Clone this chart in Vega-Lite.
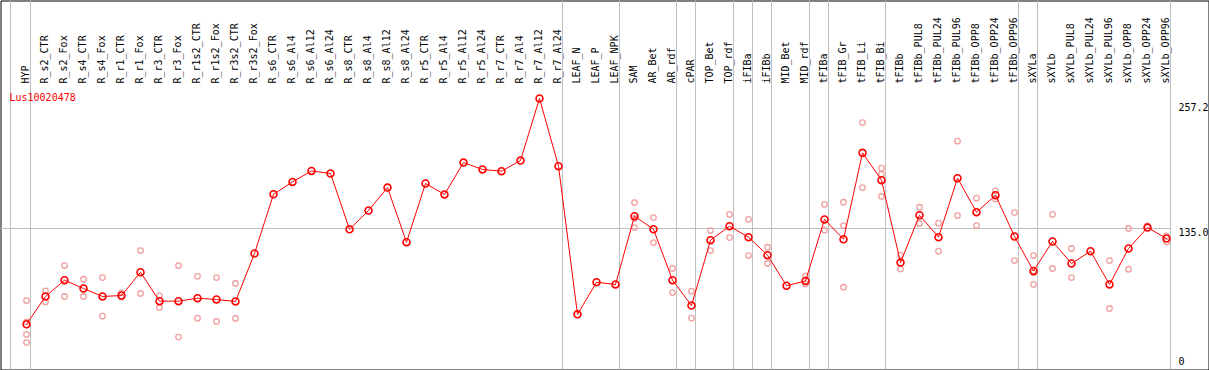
{
  "$schema": "https://vega.github.io/schema/vega-lite/v6.json",
  "width": 1208,
  "height": 369,
  "padding": 0.5,
  "autosize": {"type": "none"},
  "background": "#ffffff",
  "title": {"text": "Lus10020478", "anchor": "start", "frame": "group", "orient": "top", "offset": -103, "color": "#FF0000", "font": "DejaVu Sans Mono", "fontSize": 10, "fontWeight": "normal", "dx": 9, "baseline": "top"},
  "config": {
    "view": {"stroke": "#000000", "strokeWidth": 1},
    "axis": {"translate": 0}
  },
  "datasets": {
    "means": [
      {"cat": "HYP", "v": 45.0}, {"cat": "R_s2_CTR", "v": 71.1}, {"cat": "R_s2_Fox", "v": 86.4}, {"cat": "R_s4_CTR", "v": 78.6}, {"cat": "R_s4_Fox", "v": 71.1},
      {"cat": "R_r1_CTR", "v": 72.0}, {"cat": "R_r1_Fox", "v": 93.9}, {"cat": "R_r3_CTR", "v": 66.7}, {"cat": "R_r3_Fox", "v": 66.7}, {"cat": "R_r1s2_CTR", "v": 69.5},
      {"cat": "R_r1s2_Fox", "v": 68.3}, {"cat": "R_r3s2_CTR", "v": 66.4}, {"cat": "R_r3s2_Fox", "v": 111.5}, {"cat": "R_s6_CTR", "v": 167.2}, {"cat": "R_s6_Al4", "v": 178.8},
      {"cat": "R_s6_Al12", "v": 189.1}, {"cat": "R_s6_Al24", "v": 186.7}, {"cat": "R_s8_CTR", "v": 134.3}, {"cat": "R_s8_Al4", "v": 151.9}, {"cat": "R_s8_Al12", "v": 173.5},
      {"cat": "R_s8_Al24", "v": 122.1}, {"cat": "R_r5_CTR", "v": 177.3}, {"cat": "R_r5_Al4", "v": 167.0}, {"cat": "R_r5_Al12", "v": 197.0}, {"cat": "R_r5_Al24", "v": 190.5},
      {"cat": "R_r7_CTR", "v": 188.9}, {"cat": "R_r7_Al4", "v": 198.9}, {"cat": "R_r7_Al12", "v": 257.2}, {"cat": "R_r7_Al24", "v": 193.6}, {"cat": "LEAF_N", "v": 54.3},
      {"cat": "LEAF_P", "v": 84.5}, {"cat": "LEAF_NPK", "v": 82.4}, {"cat": "SAM", "v": 146.6}, {"cat": "AR_Bet", "v": 134.3}, {"cat": "AR_rdf", "v": 86.4},
      {"cat": "cPAR", "v": 62.6}, {"cat": "TOP_Bet", "v": 124.0}, {"cat": "TOP_rdf", "v": 137.2}, {"cat": "iFIBa", "v": 126.8}, {"cat": "iFIBb", "v": 109.9},
      {"cat": "MID_Bet", "v": 81.2}, {"cat": "MID_rdf", "v": 85.7}, {"cat": "tFIBa", "v": 143.5}, {"cat": "tFIB_Gr", "v": 124.9}, {"cat": "tFIB_Li", "v": 206.1},
      {"cat": "tFIB_Bi", "v": 180.4}, {"cat": "tFIBb", "v": 103.0}, {"cat": "tFIBb_PUL8", "v": 147.5}, {"cat": "tFIBb_PUL24", "v": 126.8}, {"cat": "tFIBb_PUL96", "v": 182.3},
      {"cat": "tFIBb_OPP8", "v": 150.3}, {"cat": "tFIBb_OPP24", "v": 166.3}, {"cat": "tFIBb_OPP96", "v": 127.5}, {"cat": "sXYLa", "v": 95.1}, {"cat": "sXYLb", "v": 122.8},
      {"cat": "sXYLb_PUL8", "v": 102.1}, {"cat": "sXYLb_PUL24", "v": 113.7}, {"cat": "sXYLb_PUL96", "v": 82.4}, {"cat": "sXYLb_OPP8", "v": 116.2}, {"cat": "sXYLb_OPP24", "v": 135.9},
      {"cat": "sXYLb_OPP96", "v": 125.6}
    ],
    "reps": [
      {"cat": "HYP", "v": 67.3}, {"cat": "HYP", "v": 47.2}, {"cat": "HYP", "v": 35.4}, {"cat": "HYP", "v": 27.8},
      {"cat": "R_s2_CTR", "v": 76.3}, {"cat": "R_s2_CTR", "v": 66.0},
      {"cat": "R_s2_Fox", "v": 100.2}, {"cat": "R_s2_Fox", "v": 71.1},
      {"cat": "R_s4_CTR", "v": 87.3}, {"cat": "R_s4_CTR", "v": 71.1},
      {"cat": "R_s4_Fox", "v": 88.9}, {"cat": "R_s4_Fox", "v": 52.6},
      {"cat": "R_r1_CTR", "v": 74.5}, {"cat": "R_r1_CTR", "v": 70.4},
      {"cat": "R_r1_Fox", "v": 114.3}, {"cat": "R_r1_Fox", "v": 73.9},
      {"cat": "R_r3_CTR", "v": 72.0}, {"cat": "R_r3_CTR", "v": 60.7},
      {"cat": "R_r3_Fox", "v": 100.2}, {"cat": "R_r3_Fox", "v": 32.9},
      {"cat": "R_r1s2_CTR", "v": 90.0}, {"cat": "R_r1s2_CTR", "v": 50.7},
      {"cat": "R_r1s2_Fox", "v": 88.9}, {"cat": "R_r1s2_Fox", "v": 47.6},
      {"cat": "R_r3s2_CTR", "v": 83.3}, {"cat": "R_r3s2_CTR", "v": 50.4},
      {"cat": "SAM", "v": 159.4}, {"cat": "SAM", "v": 144.5}, {"cat": "SAM", "v": 135.9},
      {"cat": "AR_Bet", "v": 145.3}, {"cat": "AR_Bet", "v": 121.8},
      {"cat": "AR_rdf", "v": 97.4}, {"cat": "AR_rdf", "v": 74.8},
      {"cat": "cPAR", "v": 76.1}, {"cat": "cPAR", "v": 50.7},
      {"cat": "TOP_Bet", "v": 133.1}, {"cat": "TOP_Bet", "v": 114.3},
      {"cat": "TOP_rdf", "v": 148.2}, {"cat": "TOP_rdf", "v": 126.5},
      {"cat": "iFIBa", "v": 143.5}, {"cat": "iFIBa", "v": 109.6},
      {"cat": "iFIBb", "v": 117.4}, {"cat": "iFIBb", "v": 102.1},
      {"cat": "MID_rdf", "v": 90.4}, {"cat": "MID_rdf", "v": 82.9},
      {"cat": "tFIBa", "v": 157.6}, {"cat": "tFIBa", "v": 133.4},
      {"cat": "tFIB_Gr", "v": 159.7}, {"cat": "tFIB_Gr", "v": 137.8}, {"cat": "tFIB_Gr", "v": 79.8},
      {"cat": "tFIB_Li", "v": 234.6}, {"cat": "tFIB_Li", "v": 173.5},
      {"cat": "tFIB_Bi", "v": 191.7}, {"cat": "tFIB_Bi", "v": 186.0}, {"cat": "tFIB_Bi", "v": 165.1},
      {"cat": "tFIBb", "v": 109.9}, {"cat": "tFIBb", "v": 97.0},
      {"cat": "tFIBb_PUL8", "v": 155.0}, {"cat": "tFIBb_PUL8", "v": 139.7},
      {"cat": "tFIBb_PUL24", "v": 140.0}, {"cat": "tFIBb_PUL24", "v": 113.7},
      {"cat": "tFIBb_PUL96", "v": 217.1}, {"cat": "tFIBb_PUL96", "v": 147.2},
      {"cat": "tFIBb_OPP8", "v": 163.5}, {"cat": "tFIBb_OPP8", "v": 137.8},
      {"cat": "tFIBb_OPP24", "v": 170.4}, {"cat": "tFIBb_OPP24", "v": 162.8},
      {"cat": "tFIBb_OPP96", "v": 150.0}, {"cat": "tFIBb_OPP96", "v": 104.9},
      {"cat": "sXYLa", "v": 109.6}, {"cat": "sXYLa", "v": 93.3}, {"cat": "sXYLa", "v": 82.4},
      {"cat": "sXYLb", "v": 148.2}, {"cat": "sXYLb", "v": 97.4},
      {"cat": "sXYLb_PUL8", "v": 116.2}, {"cat": "sXYLb_PUL8", "v": 88.9},
      {"cat": "sXYLb_PUL96", "v": 104.9}, {"cat": "sXYLb_PUL96", "v": 59.8},
      {"cat": "sXYLb_OPP8", "v": 135.0}, {"cat": "sXYLb_OPP8", "v": 96.7},
      {"cat": "sXYLb_OPP24", "v": 137.4},
      {"cat": "sXYLb_OPP96", "v": 128.0}, {"cat": "sXYLb_OPP96", "v": 122.4}
    ],
    "separators": [
      {"cat": "HYP"}, {"cat": "R_r7_Al24"}, {"cat": "LEAF_NPK"}, {"cat": "AR_rdf"}, {"cat": "cPAR"}, {"cat": "TOP_rdf"}, {"cat": "iFIBa"}, {"cat": "iFIBb"},
      {"cat": "MID_rdf"}, {"cat": "tFIBa"}, {"cat": "tFIB_Bi"}, {"cat": "tFIBb_OPP96"}, {"cat": "sXYLa"}, {"cat": "sXYLb_OPP96"}
    ],
    "leftline": [{"cat": "HYP"}],
    "refline": [{"from": "HYP", "to": "sXYLb_OPP96", "v": 135}]
  },
  "encoding": {
    "x": {
      "field": "cat", "type": "nominal",
      "scale": {
        "type": "band", "paddingInner": 0, "paddingOuter": 0, "range": [16.5, 1175.5],
        "domain": ["HYP","R_s2_CTR","R_s2_Fox","R_s4_CTR","R_s4_Fox","R_r1_CTR","R_r1_Fox","R_r3_CTR","R_r3_Fox","R_r1s2_CTR","R_r1s2_Fox","R_r3s2_CTR","R_r3s2_Fox","R_s6_CTR","R_s6_Al4","R_s6_Al12","R_s6_Al24","R_s8_CTR","R_s8_Al4","R_s8_Al12","R_s8_Al24","R_r5_CTR","R_r5_Al4","R_r5_Al12","R_r5_Al24","R_r7_CTR","R_r7_Al4","R_r7_Al12","R_r7_Al24","LEAF_N","LEAF_P","LEAF_NPK","SAM","AR_Bet","AR_rdf","cPAR","TOP_Bet","TOP_rdf","iFIBa","iFIBb","MID_Bet","MID_rdf","tFIBa","tFIB_Gr","tFIB_Li","tFIB_Bi","tFIBb","tFIBb_PUL8","tFIBb_PUL24","tFIBb_PUL96","tFIBb_OPP8","tFIBb_OPP24","tFIBb_OPP96","sXYLa","sXYLb","sXYLb_PUL8","sXYLb_PUL24","sXYLb_PUL96","sXYLb_OPP8","sXYLb_OPP24","sXYLb_OPP96"]
      },
      "axis": {
        "orient": "top", "offset": -85, "title": null, "labelAngle": 270, "labelPadding": 2,
        "ticks": false, "tickSize": 0, "domain": false,
        "grid": false, "labelFont": "DejaVu Sans Mono", "labelFontSize": 10, "labelColor": "#000000",
        "labelAlign": "left", "labelBaseline": "middle", "labelOverlap": false, "labelLimit": 0
      }
    },
    "y": {
      "field": "v", "type": "quantitative",
      "scale": {"domain": [2.46, 349.32], "nice": false, "zero": false, "clamp": true},
      "axis": {
        "orient": "right", "offset": -32, "labelPadding": 2, "title": null,
        "values": [0, 135, 257.2], "labelExpr": "datum.value == 0 ? '0' : format(datum.value, '.1f')",
        "ticks": false, "tickSize": 0, "domain": false, "grid": false,
        "labelFont": "DejaVu Sans Mono", "labelFontSize": 10, "labelColor": "#000000",
        "labelAlign": "left", "labelBaseline": "middle", "labelOverlap": false, "labelFlush": false,
        "labelOffset": {"condition": [{"test": "datum.value == 0", "value": -8}, {"test": "datum.value > 200", "value": 9}], "value": 4}
      }
    }
  },
  "layer": [
    {
      "data": {"name": "separators"},
      "mark": {"type": "rule", "color": "#C0C0C0", "strokeWidth": 1},
      "encoding": {"x": {"field": "cat", "type": "nominal", "bandPosition": 0.7105}, "y": null}
    },
    {
      "data": {"name": "leftline"},
      "mark": {"type": "rule", "color": "#C0C0C0", "strokeWidth": 1},
      "encoding": {"x": {"field": "cat", "type": "nominal", "bandPosition": -0.342}, "x2": null, "y": null, "y2": null}
    },
    {
      "data": {"name": "refline"},
      "mark": {"type": "rule", "color": "#C0C0C0", "strokeWidth": 1},
      "encoding": {
        "x": {"field": "from", "type": "nominal", "bandPosition": -0.868},
        "x2": {"field": "to", "bandPosition": 0.7105},
        "y": {"field": "v", "type": "quantitative"}
      }
    },
    {
      "data": {"values": [{}]},
      "mark": {"type": "rule", "color": "#000000", "strokeWidth": 1},
      "encoding": {"x": null, "y": {"datum": 269.42}}
    },
    {
      "data": {"name": "reps"},
      "mark": {"type": "point", "shape": "circle", "filled": false, "stroke": "#F0A0A0", "strokeWidth": 1.3, "size": 30, "opacity": 1}
    },
    {
      "data": {"name": "means"},
      "mark": {"type": "line", "color": "#FF0000", "strokeWidth": 1},
      "encoding": {"order": {"value": null}}
    },
    {
      "data": {"name": "means"},
      "mark": {"type": "point", "shape": "circle", "filled": false, "stroke": "#FF0000", "strokeWidth": 1.6, "size": 48, "opacity": 1}
    }
  ]
}
